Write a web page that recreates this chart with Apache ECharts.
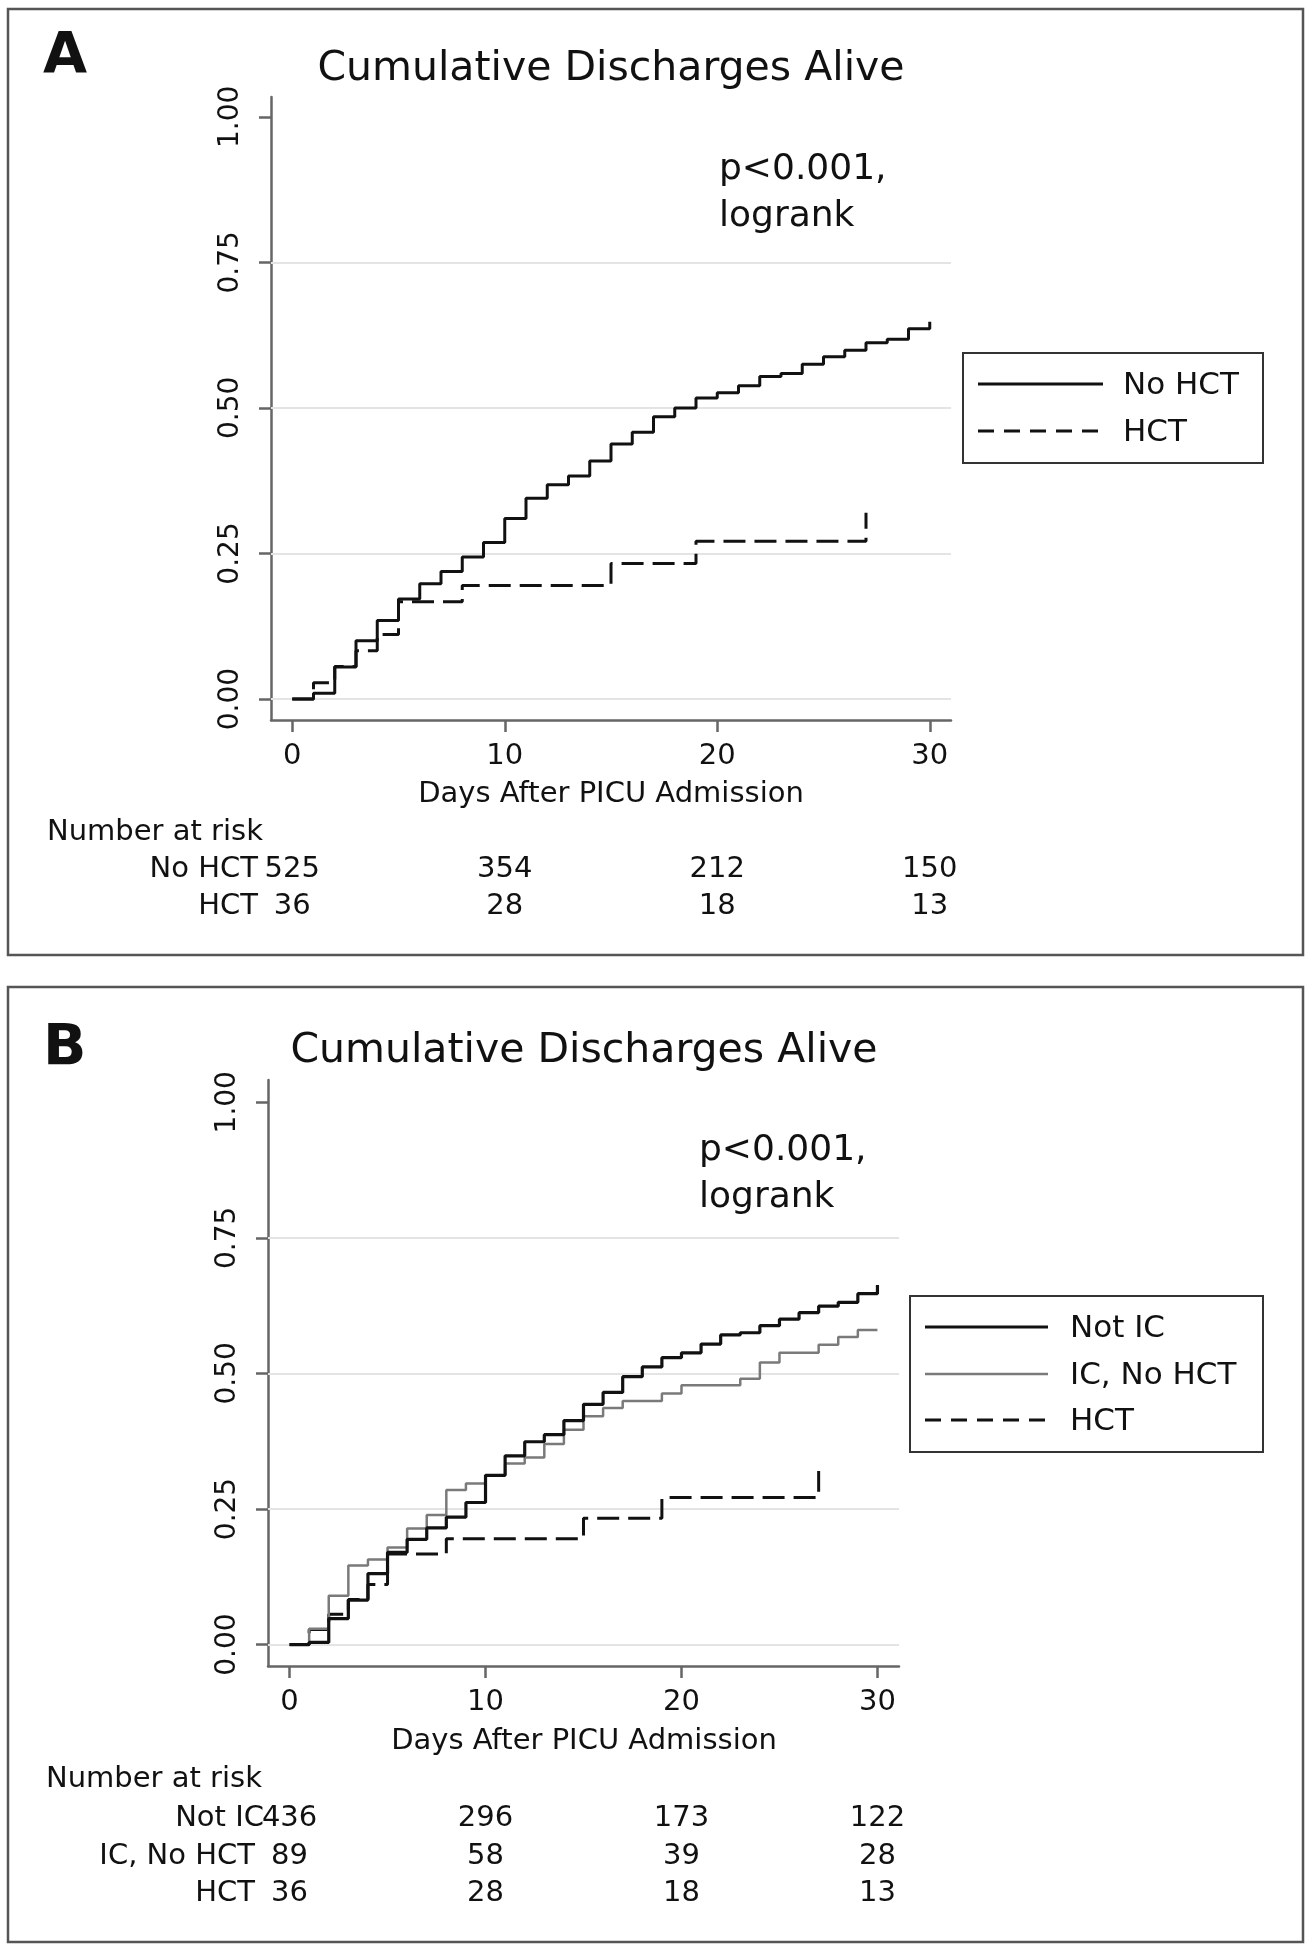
<!DOCTYPE html>
<html>
<head>
<meta charset="utf-8">
<script src="https://cdn.jsdelivr.net/npm/echarts@6/dist/echarts.min.js"></script>
<style>
  html, body { margin: 0; padding: 0; background: #fff; }
  #chart { width: 1314px; height: 1950px; }
</style>
</head>
<body>
<div id="chart"></div>
<script>
// day grid used by the daily step curves
const stepDays = [0, 1, 2, 3, 4, 5, 6, 7, 8, 9, 10, 11, 12, 13, 14, 15,
                  16, 17, 18, 19, 20, 21, 22, 23, 24, 25, 26, 27, 28, 29, 30];

// panel A
const noHct = [0, 0.010, 0.055, 0.100, 0.135, 0.172, 0.198, 0.219, 0.244, 0.269, 0.310,
               0.345, 0.368, 0.383, 0.409, 0.438, 0.458, 0.485, 0.500, 0.517, 0.526,
               0.538, 0.554, 0.559, 0.575, 0.588, 0.599, 0.612, 0.618, 0.636, 0.648];

// panel B
const notIC = [0, 0.004, 0.048, 0.082, 0.131, 0.170, 0.194, 0.215, 0.235, 0.262, 0.312,
               0.348, 0.374, 0.387, 0.413, 0.443, 0.465, 0.494, 0.512, 0.529, 0.538,
               0.554, 0.571, 0.575, 0.588, 0.600, 0.612, 0.624, 0.631, 0.647, 0.663];
const icNoHct = [0, 0.029, 0.090, 0.146, 0.157, 0.179, 0.214, 0.239, 0.285, 0.297, 0.312,
                 0.334, 0.345, 0.370, 0.396, 0.421, 0.436, 0.449, 0.449, 0.463, 0.478,
                 0.478, 0.478, 0.490, 0.520, 0.538, 0.538, 0.553, 0.567, 0.580, 0.580];

// HCT curve (same in both panels)
const hctDays = [0, 1, 2, 3, 4, 5, 8, 15, 19, 27];
const hctValues = [0, 0.028, 0.056, 0.083, 0.111, 0.167, 0.195, 0.233, 0.271, 0.320];

// number at risk
const riskDays = [0, 10, 20, 30];
const riskNoHct = [525, 354, 212, 150];
const riskHct = [36, 28, 18, 13];
const riskNotIC = [436, 296, 173, 122];
const riskIcNoHct = [89, 58, 39, 28];

const xTicks = [0, 10, 20, 30];
const yTicks = [0, 0.25, 0.5, 0.75, 1];
const gridLevels = [0, 0.25, 0.5, 0.75];

const FONT = 'DejaVu Sans';
const AXIS_COLOR = '#666';
const INK = '#111';

function pairs(xs, ys) {
  return xs.map((x, i) => [x, ys[i]]);
}

function xAxisFor(gridIndex, min, max) {
  return {
    type: 'value', gridIndex: gridIndex, min: min, max: max,
    axisLine: { show: true, onZero: false, lineStyle: { color: AXIS_COLOR, width: 2.5 } },
    axisTick: { show: true, customValues: xTicks, length: 12, lineStyle: { color: AXIS_COLOR, width: 2.5 } },
    axisLabel: { show: true, customValues: xTicks, margin: 22, color: INK, fontFamily: FONT, fontSize: 29 },
    splitLine: { show: false }
  };
}

function yAxisFor(gridIndex, min, max) {
  return {
    type: 'value', gridIndex: gridIndex, min: min, max: max,
    axisLine: { show: true, onZero: false, lineStyle: { color: AXIS_COLOR, width: 2.5 } },
    axisTick: { show: true, customValues: yTicks, length: 12, lineStyle: { color: AXIS_COLOR, width: 2.5 } },
    axisLabel: {
      show: true, customValues: yTicks, rotate: 90, margin: 26,
      color: INK, fontFamily: FONT, fontSize: 28,
      formatter: function (v) { return v.toFixed(2); }
    },
    splitLine: { show: false }
  };
}

function gridLineSeries(idx) {
  return {
    type: 'line', xAxisIndex: idx, yAxisIndex: idx, data: [], z: 1, silent: true,
    markLine: {
      silent: true, z: 1, symbol: ['none', 'none'], label: { show: false },
      emphasis: { disabled: true },
      lineStyle: { color: '#e4e4e4', width: 2, type: 'solid' },
      data: gridLevels.map(v => ({ yAxis: v }))
    }
  };
}

function stepSeries(name, idx, data, color, width, dash) {
  return {
    name: name, type: 'line', xAxisIndex: idx, yAxisIndex: idx,
    step: 'end', symbol: 'none', showSymbol: false, z: 5,
    data: data,
    lineStyle: { color: color, width: width, type: dash || 'solid' },
    emphasis: { disabled: true }
  };
}

const chart = echarts.init(document.getElementById('chart'));

chart.setOption({
  backgroundColor: '#fff',
  animation: false,
  grid: [
    { left: 271, top: 97, width: 680, height: 623, outerBoundsMode: 'none' },
    { left: 268, top: 1080, width: 631, height: 586, outerBoundsMode: 'none' }
  ],
  xAxis: [xAxisFor(0, -1, 31), xAxisFor(1, -1.1, 31.1)],
  yAxis: [yAxisFor(0, -0.036, 1.034), yAxisFor(1, -0.0395, 1.041)],
  series: [
    gridLineSeries(0),
    stepSeries('HCT', 0, pairs(hctDays, hctValues), INK, 3, [22, 9]),
    stepSeries('No HCT', 0, pairs(stepDays, noHct), INK, 3),
    gridLineSeries(1),
    stepSeries('HCT', 1, pairs(hctDays, hctValues), INK, 3, [22, 9]),
    stepSeries('IC, No HCT', 1, pairs(stepDays, icNoHct), '#7a7a7a', 2.5),
    stepSeries('Not IC', 1, pairs(stepDays, notIC), INK, 3.2)
  ]
});

// ---- text, legends, frames ----
function txt(x, y, text, size, align, weight) {
  return {
    type: 'text', x: x, y: y, silent: true, z: 20,
    style: {
      text: text, fill: INK, fontFamily: FONT, fontSize: size,
      fontWeight: weight || 'normal',
      align: align || 'left', verticalAlign: 'middle',
      textAlign: align || 'left', textVerticalAlign: 'middle'
    }
  };
}
function seg(x1, y1, x2, y2, color, width, dash) {
  return {
    type: 'line', silent: true, z: 20,
    shape: { x1: x1, y1: y1, x2: x2, y2: y2 },
    style: { stroke: color, lineWidth: width, lineDash: dash || null }
  };
}
function box(x, y, w, h, color, width) {
  return {
    type: 'rect', silent: true, z: 15,
    shape: { x: x, y: y, width: w, height: h },
    style: { fill: 'none', stroke: color, lineWidth: width }
  };
}

function riskRows(axisIdx, rows) {
  const out = [];
  rows.forEach(r => {
    out.push(txt(r.right, r.y, r.label, 29, 'right'));
    riskDays.forEach((d, i) => {
      const px = chart.convertToPixel({ xAxisIndex: axisIdx }, d);
      out.push(txt(px, r.y, String(r.values[i]), 29, 'center'));
    });
  });
  return out;
}

const g = [];
// panel A
g.push(box(8, 9, 1295, 946, '#555', 2.5));
g.push(txt(43, 58, 'A', 57, 'left', 'bold'));
g.push(txt(611, 69, 'Cumulative Discharges Alive', 41, 'center'));
g.push(txt(719, 170, 'p<0.001,', 36));
g.push(txt(719, 217, 'logrank', 36));
g.push(box(963, 353, 300, 110, '#333', 2));
g.push(seg(978, 384, 1103, 384, INK, 3));
g.push(seg(978, 431, 1103, 431, INK, 3, [16, 10]));
g.push(txt(1123, 386, 'No HCT', 31));
g.push(txt(1123, 433, 'HCT', 31));
g.push(txt(611, 794, 'Days After PICU Admission', 29, 'center'));
g.push(txt(47, 832, 'Number at risk', 29));
riskRows(0, [
  { label: 'No HCT', right: 258, y: 869, values: riskNoHct },
  { label: 'HCT', right: 258, y: 906, values: riskHct }
]).forEach(e => g.push(e));

// panel B
g.push(box(8, 987, 1295, 955, '#555', 2.5));
g.push(txt(43, 1050, 'B', 57, 'left', 'bold'));
g.push(txt(584, 1051, 'Cumulative Discharges Alive', 41, 'center'));
g.push(txt(699, 1151, 'p<0.001,', 36));
g.push(txt(699, 1198, 'logrank', 36));
g.push(box(910, 1296, 353, 156, '#333', 2));
g.push(seg(925, 1327, 1048, 1327, INK, 3.2));
g.push(seg(925, 1374, 1048, 1374, '#7a7a7a', 2.5));
g.push(seg(925, 1420, 1048, 1420, INK, 3, [16, 10]));
g.push(txt(1070, 1329, 'Not IC', 31));
g.push(txt(1070, 1376, 'IC, No HCT', 31));
g.push(txt(1070, 1422, 'HCT', 31));
g.push(txt(584, 1741, 'Days After PICU Admission', 29, 'center'));
g.push(txt(46, 1779, 'Number at risk', 29));
riskRows(1, [
  { label: 'Not IC', right: 264, y: 1818, values: riskNotIC },
  { label: 'IC, No HCT', right: 255, y: 1856, values: riskIcNoHct },
  { label: 'HCT', right: 255, y: 1893, values: riskHct }
]).forEach(e => g.push(e));

chart.setOption({ graphic: { elements: g } });
</script>
</body>
</html>
